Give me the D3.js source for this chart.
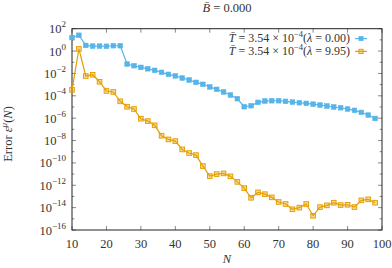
<!DOCTYPE html>
<html>
<head>
<meta charset="utf-8">
<script src="https://d3js.org/d3.v7.min.js"></script>
<style>
  body { margin: 0; background: #fff; }
  text { font-family: "Liberation Serif", "DejaVu Serif", serif; fill: #333; }
</style>
</head>
<body>
<div id="chart"></div>
<script>
// sample sizes N
const nVals = [10,12,14,16,18,20,22,24,26,28,30,32,34,36,38,40,42,44,46,48,50,52,54,56,58,60,
               62,64,66,68,70,72,74,76,78,80,82,84,86,88,90,92,94,96,98];

// error for lambda = 0.00 (blue)
const errLam0 = [1.6e1,2.6e1,3.2,2.8,2.8,2.7,3.0,3.0,6.9e-2,4.9e-2,3.5e-2,2.6e-2,1.9e-2,1.26e-2,8.3e-3,
                 6.0e-3,3.9e-3,2.6e-3,1.6e-3,1.07e-3,6.2e-4,3.8e-4,2.2e-4,1.17e-4,5.5e-5,1.05e-5,
                 1.29e-5,2.6e-5,3.4e-5,3.6e-5,3.6e-5,3.2e-5,2.75e-5,2.4e-5,2.1e-5,1.8e-5,1.5e-5,
                 1.23e-5,1.0e-5,8.5e-6,6.6e-6,5.0e-6,3.3e-6,1.9e-6,9.5e-7];

// error for lambda = 9.95 (orange)
const errLam995 = [3.4e-4,1.55,5.9e-3,7.6e-3,1.8e-3,2.7e-4,2.2e-4,3.2e-5,1.05e-5,6.6e-6,8.9e-7,5.5e-7,
                   2.3e-7,2.7e-8,1.26e-8,8.9e-9,1.6e-9,7.6e-10,5.0e-10,5.2e-11,6.6e-12,1.0e-11,
                   1.15e-11,6.3e-12,2.0e-12,5.6e-13,7.6e-14,2.3e-13,1.6e-13,8.3e-14,3.2e-14,2.1e-14,
                   7.1e-15,1.0e-14,2.1e-14,1.86e-15,1.12e-14,1.6e-14,2.75e-14,1.7e-14,1.8e-14,
                   1.12e-14,4.5e-14,5.5e-14,2.75e-14];

const xTicks = [10,20,30,40,50,60,70,80,90,100];
const yExpLabels = [2,0,-2,-4,-6,-8,-10,-12,-14,-16];
const yExpAll = [2,1,0,-1,-2,-3,-4,-5,-6,-7,-8,-9,-10,-11,-12,-13,-14,-15,-16];

const width = 392, height = 268;
const margin = { top: 28.7, right: 10, bottom: 38, left: 72 };
const blue = "#56B4E9", orange = "#E69F00";
const fs = "12.5px", fsSup = "9px";

const svg = d3.select("#chart").append("svg")
    .attr("width", width).attr("height", height);

const x = d3.scaleLinear().domain([10, 100]).range([margin.left, width - margin.right]);
const y = d3.scaleLog().domain([1e-16, 1e2]).range([height - margin.bottom, margin.top]);

const x0 = x.range()[0], x1 = x.range()[1], y0 = y.range()[0], y1 = y.range()[1];

// ticks (inward, on all four sides)
const tickLen = 4;
const ticks = svg.append("g").attr("stroke", "#888").attr("stroke-width", 1);
xTicks.forEach(t => {
    ticks.append("line").attr("x1", x(t)).attr("x2", x(t)).attr("y1", y0).attr("y2", y0 - tickLen);
    ticks.append("line").attr("x1", x(t)).attr("x2", x(t)).attr("y1", y1).attr("y2", y1 + tickLen);
});
yExpAll.forEach(e => {
    const len = e % 2 === 0 ? tickLen : tickLen * 0.6;
    ticks.append("line").attr("x1", x0).attr("x2", x0 + len).attr("y1", y(10 ** e)).attr("y2", y(10 ** e));
    ticks.append("line").attr("x1", x1).attr("x2", x1 - len).attr("y1", y(10 ** e)).attr("y2", y(10 ** e));
});

// frame
svg.append("rect")
    .attr("x", x0).attr("y", y1)
    .attr("width", x1 - x0).attr("height", y0 - y1)
    .attr("fill", "none").attr("stroke", "#222").attr("stroke-width", 1);

// x tick labels
svg.append("g").selectAll("text").data(xTicks).join("text")
    .attr("x", d => x(d)).attr("y", 248)
    .attr("text-anchor", "middle").style("font-size", fs)
    .text(d => d);

// y tick labels 10^e
const yl = svg.append("g").selectAll("text").data(yExpLabels).join("text")
    .attr("x", x0 - 6).attr("y", d => y(10 ** d) + 4.5)
    .attr("text-anchor", "end").style("font-size", fs);
yl.append("tspan").text("10");
yl.append("tspan").attr("dy", -6).style("font-size", fsSup)
    .text(d => String(d).replace("-", "\u2212"));

// lines and markers
function drawSeries(vals, color, open) {
    const pts = nVals.map((n, i) => [n, vals[i]]);
    svg.append("path").datum(pts)
        .attr("fill", "none").attr("stroke", color).attr("stroke-width", 1.2)
        .attr("d", d3.line().x(d => x(d[0])).y(d => y(d[1])));
    const s = 4.6;
    svg.append("g").selectAll("rect").data(pts).join("rect")
        .attr("x", d => x(d[0]) - s / 2).attr("y", d => y(d[1]) - s / 2)
        .attr("width", s).attr("height", s)
        .attr("fill", open ? "rgba(230,159,0,0.35)" : color)
        .attr("stroke", color).attr("stroke-width", open ? 1 : 0.6);
}
drawSeries(errLam0, blue, false);
drawSeries(errLam995, orange, true);

// title
const title = svg.append("text").attr("x", (x0 + x1) / 2).attr("y", 12)
    .attr("text-anchor", "middle").style("font-size", fs);
title.append("tspan").style("font-style", "italic").text("B\u0304");
title.append("tspan").text(" = 0.000");

// legend
const legend = [
    { lam: "0.00", color: blue, open: false },
    { lam: "9.95", color: orange, open: true }
];
legend.forEach((l, i) => {
    const ly = 38.6 + i * 12.8;
    const t = svg.append("text").attr("x", 350).attr("y", ly + 3.6)
        .attr("text-anchor", "end").style("font-size", "12px");
    t.append("tspan").style("font-style", "italic").text("T\u0304");
    t.append("tspan").text(" = 3.54 \u00d7 10");
    t.append("tspan").attr("dy", -5).style("font-size", "8.5px").text("\u22124");
    t.append("tspan").attr("dy", 5).text("(");
    t.append("tspan").style("font-style", "italic").text("\u03bb");
    t.append("tspan").text(" = " + l.lam + ")");
    svg.append("line").attr("x1", 355).attr("x2", 367).attr("y1", ly).attr("y2", ly)
        .attr("stroke", l.color).attr("stroke-width", 1.2);
    svg.append("rect").attr("x", 361 - 2.1).attr("y", ly - 2.1).attr("width", 4.2).attr("height", 4.2)
        .attr("fill", l.open ? "rgba(230,159,0,0.35)" : l.color)
        .attr("stroke", l.color).attr("stroke-width", l.open ? 1 : 0.6);
});

// axis labels
svg.append("text").attr("x", (x0 + x1) / 2).attr("y", 263)
    .attr("text-anchor", "middle").style("font-size", fs).style("font-style", "italic").text("N");

const ylab = svg.append("text")
    .attr("transform", `translate(11.5, 134) rotate(-90)`)
    .attr("text-anchor", "middle").style("font-size", fs);
ylab.append("tspan").text("Error ");
ylab.append("tspan").style("font-style", "italic").text("\u03b5");
ylab.append("tspan").attr("dy", -5).style("font-size", fsSup).style("font-style", "italic").text("\u03bc");
ylab.append("tspan").attr("dy", 5).text("(");
ylab.append("tspan").style("font-style", "italic").text("N");
ylab.append("tspan").text(")");
</script>
</body>
</html>
